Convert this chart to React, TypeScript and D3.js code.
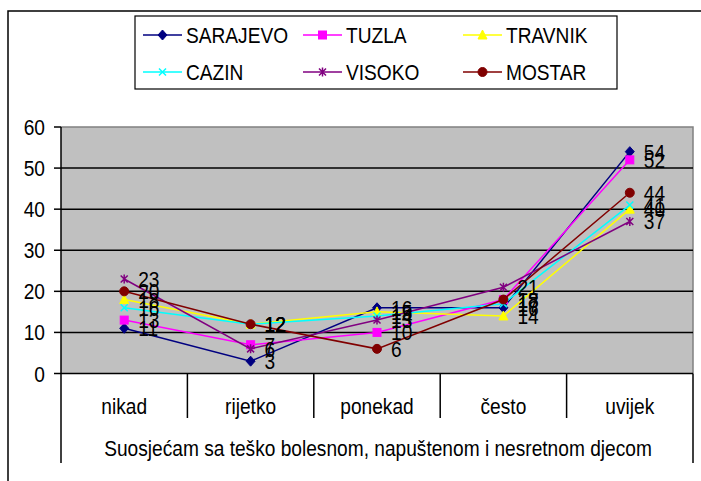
import React from "react";
import * as d3 from "d3";

const categories = ["nikad", "rijetko", "ponekad", "često", "uvijek"];
const sarajevo = [11, 3, 16, 16, 54];
const tuzla = [13, 7, 10, 18, 52];
const travnik = [18, 12, 15, 14, 40];
const cazin = [16, 12, 14, 17, 41];
const visoko = [23, 6, 13, 21, 37];
const mostar = [20, 12, 6, 18, 44];
const yTicks = [0, 10, 20, 30, 40, 50, 60];
const axisTitle = "Suosjećam sa teško bolesnom, napuštenom i nesretnom djecom";

const seriesList = [
  { name: "SARAJEVO", values: sarajevo, color: "#000080", marker: "diamond" },
  { name: "TUZLA", values: tuzla, color: "#FF00FF", marker: "square" },
  { name: "TRAVNIK", values: travnik, color: "#FFFF00", marker: "triangle" },
  { name: "CAZIN", values: cazin, color: "#00FFFF", marker: "x" },
  { name: "VISOKO", values: visoko, color: "#800080", marker: "star" },
  { name: "MOSTAR", values: mostar, color: "#800000", marker: "circle" },
];

const FONT = "'Liberation Sans', Arial, sans-serif";
const SX = 0.87;

function Txt({ x, y, anchor = "start", size = 22, children }: any) {
  return (
    <text
      transform={`translate(${x},${y}) scale(${SX},1)`}
      textAnchor={anchor}
      dominantBaseline="central"
      fontFamily={FONT}
      fontSize={size}
      fill="#000"
    >
      {children}
    </text>
  );
}

function Marker({ type, x, y, color }: any) {
  switch (type) {
    case "diamond":
      return <path d={`M${x},${y - 5}L${x + 4.5},${y}L${x},${y + 5}L${x - 4.5},${y}Z`} fill={color} stroke={color} strokeWidth={1} />;
    case "square":
      return <rect x={x - 4} y={y - 4} width={8} height={8} fill={color} stroke={color} strokeWidth={1} />;
    case "triangle":
      return <path d={`M${x},${y - 5}L${x + 4.5},${y + 4}L${x - 4.5},${y + 4}Z`} fill={color} stroke={color} strokeWidth={1} />;
    case "x":
      return (
        <path d={`M${x - 3.5},${y - 3.5}L${x + 3.5},${y + 3.5}M${x + 3.5},${y - 3.5}L${x - 3.5},${y + 3.5}`} stroke={color} strokeWidth={1.5} />
      );
    case "star":
      return (
        <path
          d={`M${x - 3.5},${y - 3.5}L${x + 3.5},${y + 3.5}M${x + 3.5},${y - 3.5}L${x - 3.5},${y + 3.5}M${x},${y - 4.5}L${x},${y + 4.5}`}
          stroke={color}
          strokeWidth={1.5}
        />
      );
    default:
      return <circle cx={x} cy={y} r={4.5} fill={color} stroke={color} />;
  }
}

export default function App() {
  const left = 61,
    right = 693,
    top = 127,
    bottom = 373.5;
  const x = d3.scaleBand<string>().domain(categories).range([left, right]);
  const y = d3.scaleLinear().domain([0, 60]).range([bottom, top]);
  const cx = (c: string) => (x(c) as number) + x.bandwidth() / 2;
  const line = d3
    .line<number>()
    .x((_, i) => cx(categories[i]))
    .y((v) => y(v));

  const legendCols = [143, 303, 463];
  const legendRows = [35, 72];

  return (
    <div style={{ position: "absolute", left: 0, top: 0 }}>
      <svg width={701} height={481} style={{ display: "block", background: "#fff" }}>
        <path d="M8,490L8,11L710,11" fill="none" stroke="#000" strokeWidth={1.5} />
        <rect x={135} y={16} width={482} height={73} fill="#fff" stroke="#000" strokeWidth={1.2} />
        {seriesList.map((s, i) => {
          const lx = legendCols[i % 3];
          const ly = legendRows[Math.floor(i / 3)];
          return (
            <g key={s.name}>
              <line x1={lx} x2={lx + 39} y1={ly} y2={ly} stroke={s.color} strokeWidth={1.5} />
              <Marker type={s.marker} x={lx + 19.5} y={ly} color={s.color} />
              <Txt x={lx + 43} y={ly}>{s.name}</Txt>
            </g>
          );
        })}
        <rect x={left} y={top} width={right - left} height={bottom - top} fill="#C0C0C0" />
        <path d={`M${left},${top}L${right},${top}L${right},${bottom}`} fill="none" stroke="#808080" strokeWidth={1.5} />
        {yTicks.map((t) => (
          <g key={t}>
            {t > 0 && t < 60 && <line x1={left} x2={right} y1={y(t)} y2={y(t)} stroke="#000" strokeWidth={1.5} />}
            <line x1={left - 7} x2={left} y1={y(t)} y2={y(t)} stroke="#000" strokeWidth={1.5} />
            <Txt x={45} y={y(t)} anchor="end">{String(t)}</Txt>
          </g>
        ))}
        <line x1={left} x2={left} y1={top} y2={463} stroke="#000" strokeWidth={1.5} />
        <line x1={right} x2={right} y1={bottom} y2={463} stroke="#000" strokeWidth={1.5} />
        <line x1={left} x2={right} y1={bottom} y2={bottom} stroke="#000" strokeWidth={1.5} />
        {categories.slice(1).map((c) => (
          <line key={c} x1={x(c) as number} x2={x(c) as number} y1={bottom} y2={418} stroke="#000" strokeWidth={1.5} />
        ))}
        {categories.map((c) => (
          <Txt key={c} x={cx(c)} y={406} anchor="middle">{c}</Txt>
        ))}
        <Txt x={(left + right) / 2 + 1} y={448} anchor="middle">{axisTitle}</Txt>
        {seriesList.map((s) => (
          <g key={s.name}>
            <path d={line(s.values) as string} fill="none" stroke={s.color} strokeWidth={1.5} />
            {s.values.map((v, i) => (
              <Marker key={i} type={s.marker} x={cx(categories[i])} y={y(v)} color={s.color} />
            ))}
          </g>
        ))}
        {seriesList.map((s) =>
          s.values.map((v, i) => (
            <Txt key={s.name + i} x={cx(categories[i]) + 14} y={y(v)}>{String(v)}</Txt>
          ))
        )}
      </svg>
    </div>
  );
}
